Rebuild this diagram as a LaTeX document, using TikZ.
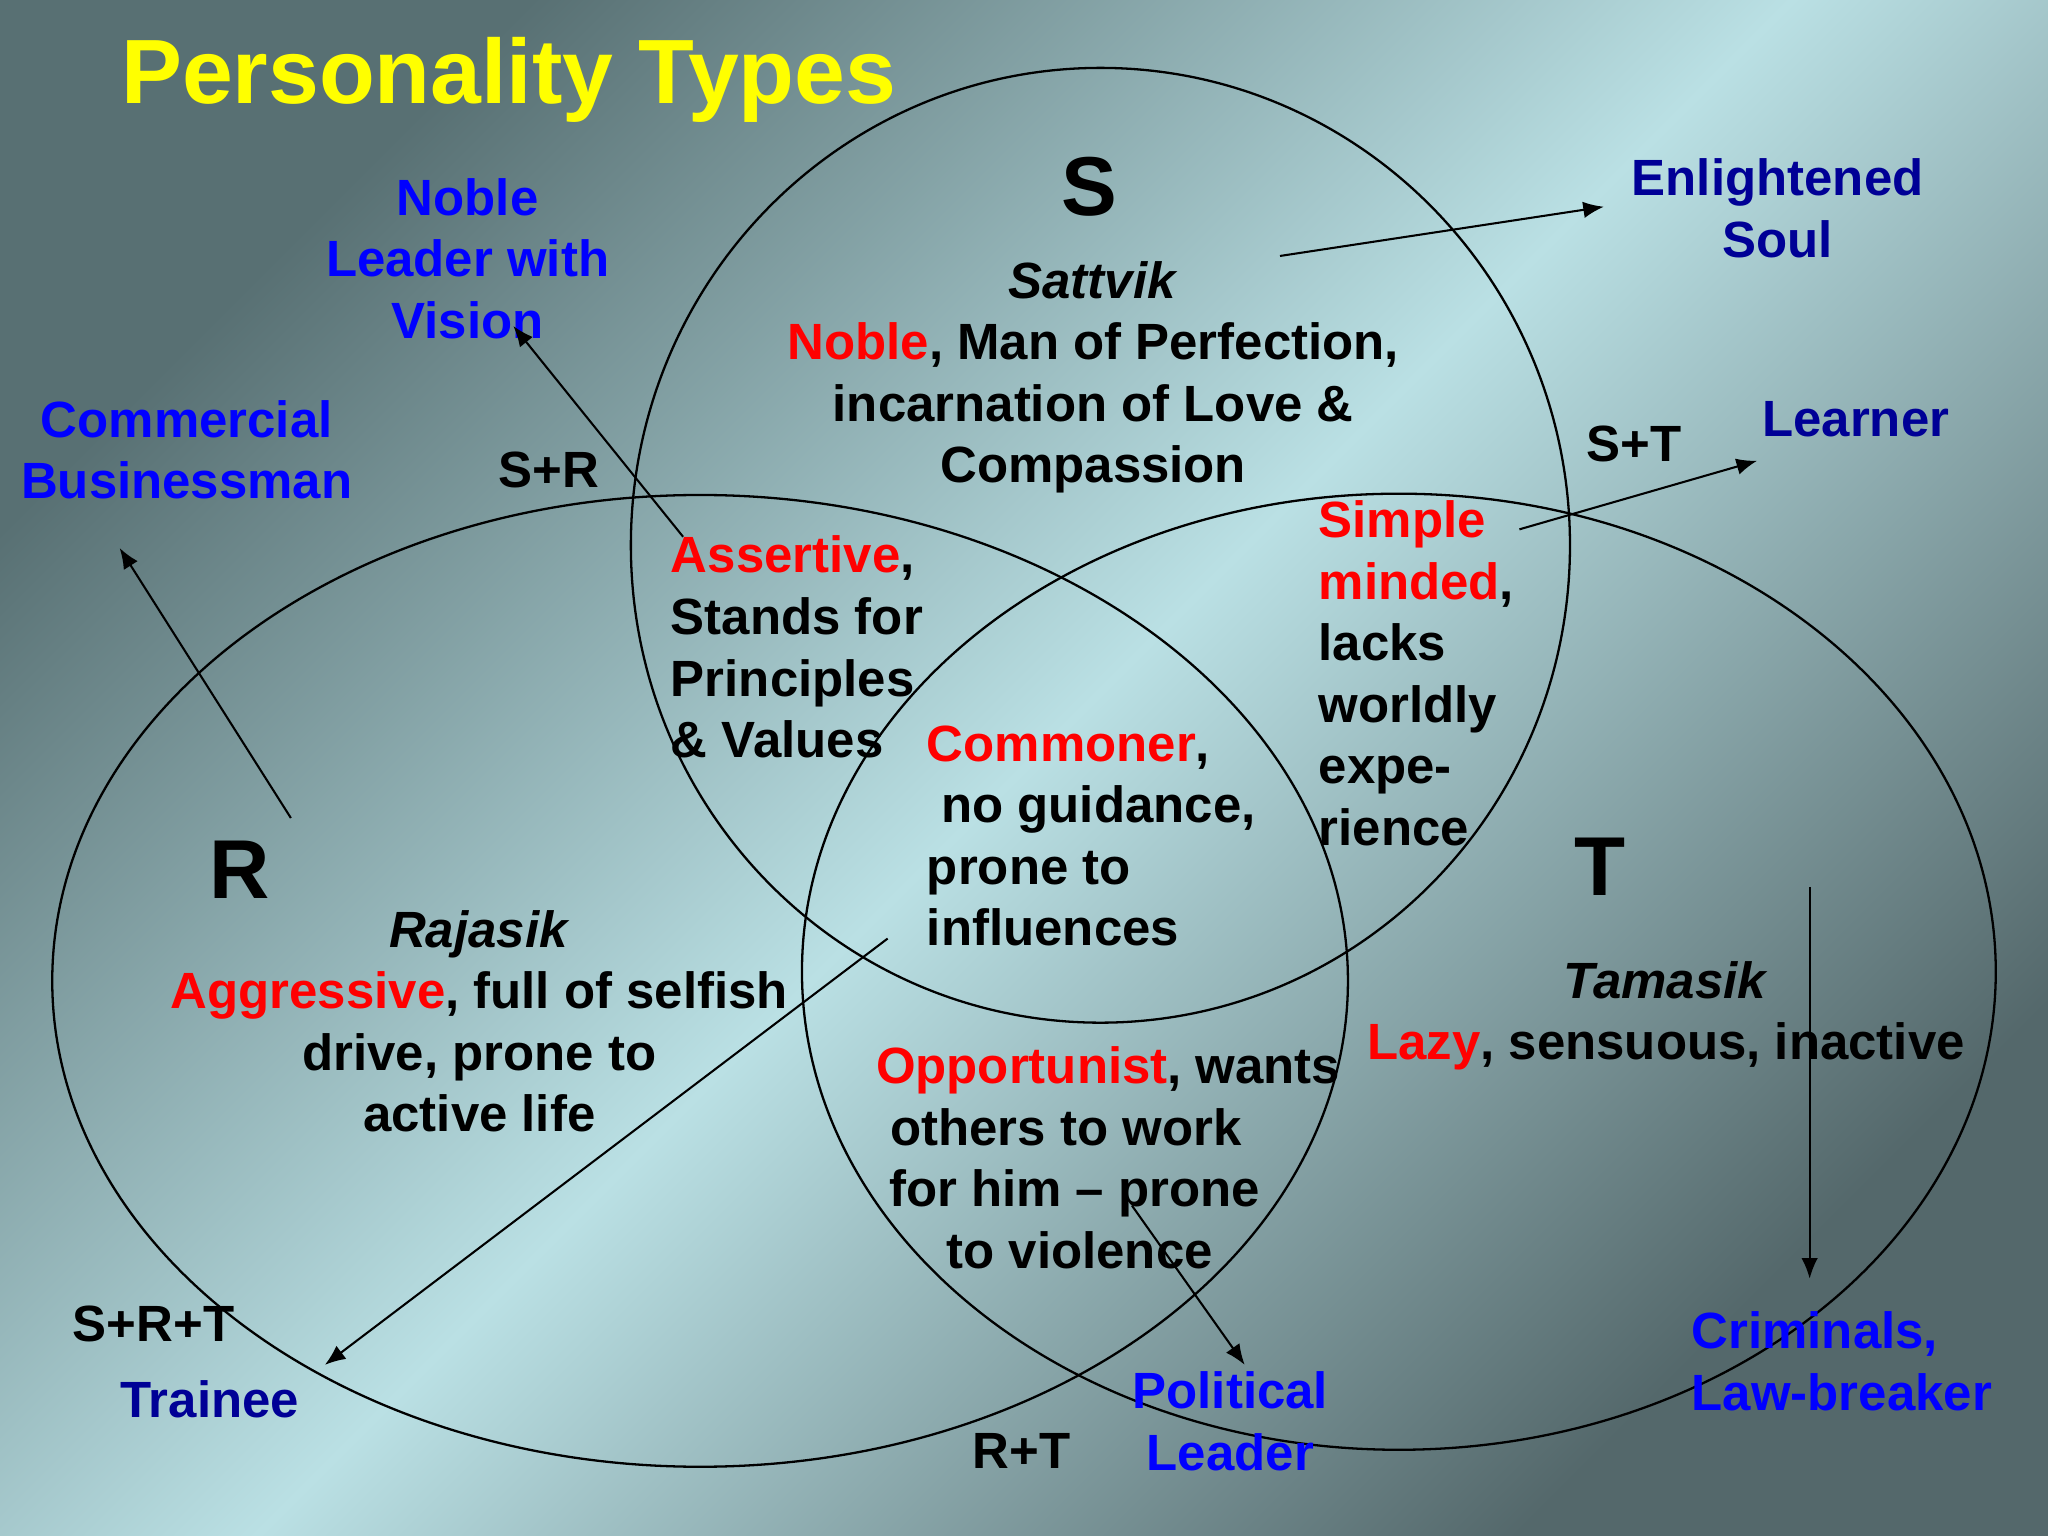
\documentclass[tikz,border=0pt]{standalone}
\usepackage{fontspec}
\setmainfont{Liberation Sans}
\usetikzlibrary{arrows.meta,positioning}
\definecolor{bgdark}{RGB}{88,112,115}
\definecolor{bglight}{RGB}{186,224,228}
\definecolor{bgdarktoo}{RGB}{84,104,107}
\definecolor{keyred}{RGB}{255,0,0}
\definecolor{typeblue}{RGB}{0,0,255}
\definecolor{typenavy}{RGB}{0,0,150}
\definecolor{titleyellow}{RGB}{255,255,0}
\newcommand{\bodyfont}{\fontsize{11.1}{13.4}\selectfont\bfseries}
\newcommand{\key}[1]{\textcolor{keyred}{#1}}

\begin{document}
\begin{tikzpicture}[
  txt/.style={font=\bodyfont, inner sep=0pt},
  big/.style={font=\fontsize{18.2}{20}\selectfont\bfseries, inner sep=0pt},
  lnk/.style={-{Latex[length=4.5pt,width=3.6pt]}, line width=0.45pt},
  ring/.style={line width=0.5pt}
]
\useasboundingbox (0,0) rectangle (15.68,11.76);
\shade[top color=bgdark, bottom color=bgdarktoo, middle color=bglight, shading angle=45]
  (0,0) rectangle (15.68,11.76);

% three rings
\draw[ring] (8.425,7.585) ellipse (3.595 and 3.655);
\draw[ring] (5.36,4.25) ellipse (4.96 and 3.72);
\draw[ring] (10.71,4.32) ellipse (4.57 and 3.66);

\node[anchor=base west, inner sep=0pt, text=titleyellow, font=\fontsize{19.9}{22}\selectfont\bfseries] (title) at (0.92,10.964) {Personality Types};

% types (base = last line)
\node[big, anchor=base] (S) at (8.34,10.11) {S};
\node[txt, anchor=base, align=center] (sdesc) at (8.37,8.065) {\textit{Sattvik}\\\key{Noble}, Man of Perfection,\\incarnation of Love \&\\Compassion};
\node[big, anchor=base] (R) at (1.835,4.884) {R};
\node[txt, anchor=base, align=center] (rdesc) at (3.67,3.095) {\textit{Rajasik}\\\key{Aggressive}, full of selfish\\drive, prone to\\active life};
\node[big, anchor=base] (T) at (12.25,4.90) {T};
\node[txt, anchor=base, align=center] (tdesc) at (12.755,3.647) {\textit{Tamasik}\\\key{Lazy}, sensuous, inactive};

% overlaps
\node[txt, anchor=base west, align=left] (sr) at (5.13,5.96) {\key{Assertive},\\Stands for\\Principles\\\& Values};
\node[txt, anchor=base west, align=left] (st) at (10.09,5.287) {\key{Simple}\\\key{minded},\\lacks\\worldly\\expe-\\rience};
\node[txt, anchor=base west, align=left] (srt) at (7.09,4.52) {\key{Commoner},\\\hspace*{0.11cm}no guidance,\\prone to\\influences};
\node[txt, anchor=base west, align=left] (rt) at (6.70,2.05) {\key{Opportunist}, wants\\\hspace*{0.11cm}others to work\\\hspace*{0.10cm}for him – prone\\\hspace*{0.54cm}to violence};

\node[txt, anchor=base] (lsr) at (4.20,8.026) {S+R};
\node[txt, anchor=base] (lst) at (12.51,8.23) {S+T};
\node[txt, anchor=base west] (lsrt) at (0.55,1.49) {S+R+T};
\node[txt, anchor=base] (lrt) at (7.82,0.52) {R+T};

% outcomes
\node[txt, anchor=base, align=center, text=typeblue] (noble) at (3.58,9.17) {Noble\\Leader with\\Vision};
\node[txt, anchor=base, align=center, text=typeblue] (commerce) at (1.43,7.94) {Commercial\\Businessman};
\node[txt, anchor=base, align=center, text=typenavy] (soul) at (13.61,9.79) {Enlightened\\Soul};
\node[txt, anchor=base west, text=typenavy] (learner) at (13.485,8.42) {Learner};
\node[txt, anchor=base west, text=typenavy] (trainee) at (0.916,0.91) {Trainee};
\node[txt, anchor=base, align=center, text=typeblue] (politic) at (9.42,0.505) {Political\\Leader};
\node[txt, anchor=base west, align=left, text=typeblue] (crime) at (12.945,0.964) {Criminals,\\Law-breaker};

% arrow ends
\coordinate (srFrom) at (5.23,7.65);
\coordinate (nobleTip) at (3.93,9.264);
\coordinate (rFrom) at (2.227,5.497);
\coordinate (commerceTip) at (0.916,7.564);
\coordinate (sFrom) at (9.80,9.80);
\coordinate (soulTip) at (12.28,10.177);
\coordinate (stFrom) at (11.633,7.707);
\coordinate (learnerTip) at (13.453,8.232);
\coordinate (srtFrom) at (6.796,4.574);
\coordinate (traineeTip) at (2.487,1.31);
\coordinate (rtFrom) at (8.666,2.53);
\coordinate (politicTip) at (9.53,1.31);
\coordinate (tFrom) at (13.855,4.97);
\coordinate (crimeTip) at (13.855,1.97);

\draw[lnk] (srFrom) -- (nobleTip);
\draw[lnk] (rFrom) -- (commerceTip);
\draw[lnk] (sFrom) -- (soulTip);
\draw[lnk] (stFrom) -- (learnerTip);
\draw[lnk] (srtFrom) -- (traineeTip);
\draw[lnk] (rtFrom) -- (politicTip);
\draw[lnk] (tFrom) -- (crimeTip);
\end{tikzpicture}
\end{document}
